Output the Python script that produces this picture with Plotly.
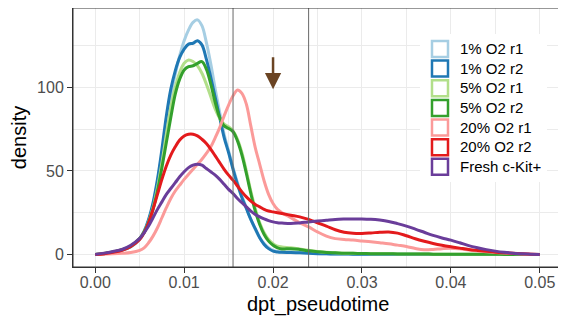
import plotly.graph_objects as go

# shared pseudotime grid
x_grid = [0.000, 0.001, 0.002, 0.003, 0.004, 0.005,
          0.0055, 0.006, 0.0065, 0.007, 0.0075, 0.008, 0.0085, 0.009, 0.0095, 0.010,
          0.0105, 0.011, 0.0115, 0.012, 0.0125, 0.013, 0.0135, 0.014, 0.0145, 0.015,
          0.0155, 0.016, 0.0165, 0.017, 0.0175, 0.018, 0.0185, 0.019, 0.0195, 0.020,
          0.0205, 0.021,
          0.022, 0.023, 0.024, 0.025, 0.026, 0.027, 0.028, 0.029, 0.030,
          0.031, 0.032, 0.033, 0.034, 0.035, 0.036, 0.037, 0.038, 0.039, 0.040,
          0.041, 0.042, 0.043, 0.044, 0.045, 0.046, 0.047, 0.048, 0.049, 0.050]

o2_1_r1 = [0, 0.5, 1.3, 2.5, 4.5, 9,
           13, 20, 30, 43, 60, 78, 95, 108, 119, 128,
           134.5, 139, 140.5, 137, 127, 114, 99, 85, 72, 62,
           52, 43, 35, 28, 21, 15, 10, 6.5, 4, 2.5,
           1.8, 1.5,
           1.5, 1.2, 0.9, 0.6, 0.4, 0.3, 0.25, 0.2, 0.2,
           0.15, 0.1, 0.1, 0.1, 0.1, 0.1, 0.08, 0.06, 0.05, 0.05,
           0.04, 0.03, 0.03, 0.02, 0.02, 0.01, 0.01, 0.01, 0.0, 0.0]

o2_1_r2 = [0, 0.5, 1.3, 2.6, 4.8, 9.5,
           14, 21, 31, 45, 63, 83, 99, 110, 118, 123,
           126, 126.5, 128, 125.5, 117, 106, 94, 82, 70, 61,
           51, 42, 34, 27.5, 21, 15.5, 10, 6, 3.5, 2,
           1.5, 1.3,
           1.2, 1.0, 0.7, 0.5, 0.4, 0.3, 0.25, 0.2, 0.2,
           0.15, 0.1, 0.1, 0.1, 0.1, 0.1, 0.08, 0.06, 0.05, 0.05,
           0.04, 0.03, 0.03, 0.02, 0.02, 0.01, 0.01, 0.01, 0.0, 0.0]

o2_5_r1 = [0, 0.6, 1.5, 2.8, 5, 9.5,
           13.5, 19.5, 28, 40, 55, 72, 88, 100, 109, 114.5,
           116.5, 115.5, 113, 108.5, 102, 94.5, 87, 81.5, 78, 76.5,
           74, 69, 61, 50, 38, 27.5, 19, 13, 9, 6.5,
           5, 4.5,
           4, 3.3, 2.5, 1.8, 1.3, 1.0, 0.8, 0.7, 0.6,
           0.5, 0.45, 0.4, 0.35, 0.3, 0.3, 0.25, 0.2, 0.2, 0.2,
           0.15, 0.15, 0.1, 0.1, 0.1, 0.05, 0.05, 0.05, 0.0, 0.0]

o2_5_r2 = [0, 0.6, 1.5, 2.8, 5, 9.5,
           13.5, 19, 27, 38, 52, 67, 82, 96, 105, 110.5,
           112.5, 113, 114.5, 115.5, 111, 102, 91, 82, 77, 75.5,
           73.5, 68, 59.5, 48.5, 36.5, 26, 18, 12, 8, 5.5,
           4, 3.3,
           3.5, 3, 2.2, 1.6, 1.2, 1.0, 0.8, 0.7, 0.6,
           0.5, 0.45, 0.4, 0.35, 0.3, 0.3, 0.25, 0.2, 0.2, 0.2,
           0.15, 0.15, 0.1, 0.1, 0.1, 0.05, 0.05, 0.05, 0.0, 0.0]

o2_20_r1 = [0, 0.2, 0.4, 0.7, 1.2, 2.5,
            4, 7, 11, 16, 22, 28, 33.5, 38, 41.5, 45,
            48, 51, 54, 57, 60.5, 64.5, 70, 76, 83, 89.5,
            95, 98.5, 96.5, 90, 77, 64, 54, 44, 36, 30.5,
            27, 25,
            22, 19, 16.5, 13.5, 11, 9.5, 9, 8.6, 8.1,
            7.6, 7, 6.4, 5.6, 4.8, 3.6, 2.8, 3, 3.5, 3.8,
            3.4, 2.7, 2.1, 1.6, 1.2, 0.9, 0.6, 0.3, 0.1, 0]

o2_20_r2 = [0, 0.5, 1.3, 2.5, 4.8, 9,
            13, 19, 27, 36, 45, 53, 59.5, 64.5, 68.5, 71,
            72, 72, 71, 69, 66.5, 63, 59, 55, 51, 47.5,
            44.5, 41, 37.5, 34.5, 32, 30, 28.5, 27, 26, 25.5,
            25, 24.5,
            23.5, 22.5, 21, 19, 17, 14.8, 13.3, 12.7, 12.6,
            12.9, 13.3, 13.5, 12.8, 11.2, 9.4, 7.9, 6.6, 5.5, 4.6,
            3.8, 3, 2.4, 1.9, 1.4, 1, 0.7, 0.4, 0.2, 0]

fresh_ckit = [0, 0.8, 1.8, 3, 5.5, 9.6,
              13, 17, 22, 27, 31.5, 36, 39.5, 43, 46.5, 49.5,
              52, 53.5, 54, 53.5, 51.5, 49.5, 47.5, 45, 42, 39,
              36.5, 33.5, 31, 28.5, 26, 24, 22.5, 21.3, 20.3, 19.5,
              19, 18.8,
              18.5, 18.9, 19.5, 20, 20.5, 21, 21.2, 21.3, 21.3,
              21.1, 20.6, 19.8, 18.5, 17, 15.2, 13.3, 11.4, 9.9, 8.6,
              7, 5.3, 4, 2.9, 2, 1.3, 0.8, 0.4, 0.2, 0]

series_names = ["1% O2 r1", "1% O2 r2", "5% O2 r1", "5% O2 r2",
                "20% O2 r1", "20% O2 r2", "Fresh c-Kit+"]
series_values = [o2_1_r1, o2_1_r2, o2_5_r1, o2_5_r2, o2_20_r1, o2_20_r2, fresh_ckit]
series_colors = ["#A6CEE3", "#1F78B4", "#B2DF8A", "#33A02C",
                 "#FB9A99", "#E31A1C", "#6A3D9A"]

x_ticks = [0.00, 0.01, 0.02, 0.03, 0.04, 0.05]
x_tick_labels = ["0.00", "0.01", "0.02", "0.03", "0.04", "0.05"]
x_minor = [0.005, 0.015, 0.025, 0.035, 0.045]
y_ticks = [0, 50, 100]
y_tick_labels = ["0", "50", "100"]
y_minor = [25, 75, 125]

vline_x = [0.0155, 0.024]
arrow_x = 0.02
arrow_from = 119
arrow_to = 99

FONT = "Liberation Sans, Arial, Helvetica, sans-serif"

fig = go.Figure()
for name, vals, col in zip(series_names, series_values, series_colors):
    fig.add_trace(go.Scatter(x=x_grid, y=vals, mode="lines", name=name,
                             line=dict(color=col, width=3, shape="spline", smoothing=1),
                             showlegend=False, hoverinfo="skip"))
for name, col in zip(series_names, series_colors):
    fig.add_trace(go.Scatter(x=[None], y=[None], mode="markers",
                             name='<span style="font-size:15px">' + name + '</span>',
                             marker=dict(symbol="square-open", size=16, color=col,
                                         line=dict(width=2.5, color=col)),
                             showlegend=True))

for vx in vline_x:
    fig.add_shape(type="line", xref="x", yref="paper", x0=vx, x1=vx, y0=0, y1=1,
                  line=dict(color="#686868", width=1), layer="above")

# panel border
fig.add_shape(type="rect", xref="paper", yref="paper", x0=0, x1=1, y0=0, y1=1,
              line=dict(color="#333333", width=1), fillcolor="rgba(0,0,0,0)", layer="above")

fig.add_annotation(x=arrow_x, y=arrow_to, ax=arrow_x, ay=arrow_from,
                   xref="x", yref="y", axref="x", ayref="y", text="",
                   showarrow=True, arrowhead=2, arrowsize=1.3, arrowwidth=2.5,
                   arrowcolor="#6B4423", standoff=0)

# x-axis title
fig.add_annotation(x=0.5, y=-0.143, xref="paper", yref="paper", text="dpt_pseudotime",
                   showarrow=False, xanchor="center", yanchor="middle",
                   font=dict(size=20, color="black", family=FONT))

# page body has an 8px margin, so the figure is sized/offset to compensate
fig.update_layout(
    width=558, height=310,
    margin=dict(l=65, r=4, t=0, b=51),
    paper_bgcolor="white", plot_bgcolor="white",
    font=dict(family=FONT, size=16, color="#4D4D4D"),
    legend=dict(x=0.7096, y=0.899, xanchor="left", yanchor="top",
                bgcolor="white", font=dict(size=12.8, color="black", family=FONT),
                tracegroupgap=0, itemsizing="trace"),
)
fig.update_xaxes(
    range=[-0.0025, 0.0525], tickmode="array", tickvals=x_ticks, ticktext=x_tick_labels,
    ticks="outside", ticklen=5, tickwidth=1, tickcolor="#333333", ticklabelstandoff=-4,
    tickfont=dict(size=16, color="#4D4D4D", family=FONT),
    showgrid=True, gridcolor="#EBEBEB", gridwidth=1.4,
    minor=dict(tickmode="array", tickvals=x_minor, showgrid=True, gridcolor="#EBEBEB", gridwidth=0.7, ticks=""),
    showline=True, linecolor="#333333", linewidth=1, mirror=True, zeroline=False,
    automargin=False,
)
fig.update_yaxes(
    range=[-7.5, 147.6], tickmode="array", tickvals=y_ticks, ticktext=y_tick_labels,
    ticks="outside", ticklen=5, tickwidth=1, tickcolor="#333333",
    tickfont=dict(size=16, color="#4D4D4D", family=FONT),
    showgrid=True, gridcolor="#EBEBEB", gridwidth=1.4,
    minor=dict(tickmode="array", tickvals=y_minor, showgrid=True, gridcolor="#EBEBEB", gridwidth=0.7, ticks=""),
    showline=True, linecolor="#333333", linewidth=1, mirror=True, zeroline=False,
    title=dict(text="density", font=dict(size=20, color="black", family=FONT), standoff=5),
    automargin=False,
)

fig.write_html("out.html")
